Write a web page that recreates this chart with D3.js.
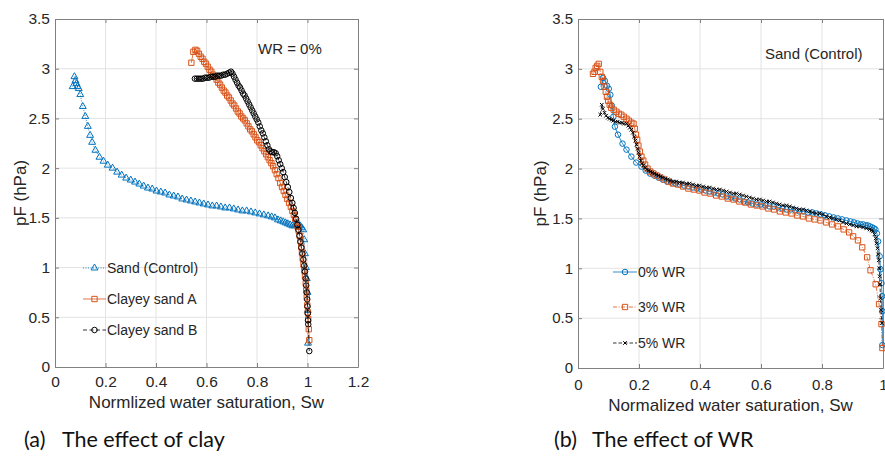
<!DOCTYPE html>
<html>
<head>
<meta charset="utf-8">
<script src="https://cdn.jsdelivr.net/npm/d3@7"></script>
<style>
  body { margin: 0; background: #fff; }
  svg text { font-family: "Liberation Sans", Arial, sans-serif; fill: #262626; }
  svg text.caption { font-family: Lato, "Open Sans", sans-serif; fill: #111; }
</style>
</head>
<body>
<svg id="fig" width="885" height="460"></svg>
<script>
// ---- data: [Sw, pF] ----
var sandControl = [[0.070,2.82],[0.077,2.92],[0.081,2.88],[0.085,2.85],[0.089,2.82],[0.094,2.80],[0.100,2.74],[0.110,2.62],[0.120,2.52],[0.130,2.42],[0.139,2.33],[0.147,2.26],[0.160,2.18],[0.176,2.11],[0.192,2.07],[0.209,2.03],
  [0.228,2.00],[0.246,1.96],[0.264,1.93],[0.282,1.90],[0.300,1.88],[0.317,1.86],[0.334,1.84],[0.351,1.82],[0.368,1.80],[0.385,1.79],[0.402,1.77],[0.419,1.76],[0.436,1.75],[0.453,1.73],[0.470,1.72],[0.487,1.71],[0.504,1.69],[0.521,1.68],[0.538,1.67],[0.555,1.66],[0.572,1.65],[0.589,1.64],[0.606,1.63],[0.623,1.62],[0.640,1.62],[0.657,1.61],[0.674,1.60],[0.691,1.60],[0.708,1.59],[0.725,1.58],[0.742,1.57],[0.759,1.57],[0.776,1.56],[0.793,1.55],[0.810,1.54],[0.827,1.53],[0.844,1.52],[0.858,1.51],[0.871,1.50],[0.883,1.48],[0.894,1.47],[0.904,1.46],[0.913,1.45],[0.922,1.44],[0.931,1.43],[0.940,1.42],[0.948,1.42],[0.956,1.43],[0.964,1.43],[0.971,1.42],[0.977,1.40],[0.983,1.38],[0.987,1.28],[0.990,1.14],[0.994,1.00],[0.997,0.89],[1.000,0.75],[1.001,0.57],[1.002,0.24]];

var clayeyA = [[0.540,3.06],[0.548,3.17],[0.556,3.19],[0.563,3.18],[0.570,3.15],[0.577,3.12],[0.584,3.10],[0.591,3.07],[0.598,3.05],[0.605,3.02],[0.612,2.99],[0.619,2.97],[0.626,2.94],[0.633,2.92],[0.640,2.89],[0.647,2.86],[0.654,2.84],[0.661,2.81],[0.668,2.78],[0.675,2.76],[0.682,2.73],[0.689,2.71],[0.696,2.68],[0.703,2.65],[0.710,2.63],[0.717,2.60],[0.724,2.57],[0.731,2.55],[0.738,2.52],[0.745,2.50],[0.752,2.48],[0.759,2.45],[0.766,2.42],[0.773,2.39],[0.780,2.37],[0.787,2.34],[0.794,2.31],[0.801,2.28],[0.808,2.26],[0.815,2.23],[0.822,2.20],[0.829,2.17],[0.836,2.14],[0.843,2.11],[0.850,2.08],[0.857,2.05],[0.864,2.02],[0.871,1.98],[0.878,1.94],[0.885,1.90],[0.892,1.85],[0.899,1.81],[0.906,1.77],[0.913,1.73],[0.920,1.69],[0.927,1.65],[0.934,1.61],[0.940,1.57],[0.946,1.53],[0.951,1.49],[0.956,1.45],[0.961,1.41],[0.965,1.37],[0.969,1.32],[0.972,1.27],[0.975,1.21],[0.978,1.15],[0.981,1.09],[0.984,1.03],[0.987,0.97],[0.990,0.91],[0.993,0.84],[0.995,0.77],[0.997,0.70],[0.999,0.62],[1.001,0.55],[1.003,0.48],[1.005,0.38],[1.007,0.27]];

var clayeyB = [[0.554,2.90],[0.562,2.90],[0.570,2.90],[0.578,2.90],[0.586,2.90],[0.594,2.91],[0.602,2.91],[0.610,2.91],[0.618,2.92],[0.626,2.92],[0.634,2.92],[0.642,2.93],[0.650,2.93],[0.658,2.93],[0.666,2.94],[0.674,2.94],[0.682,2.95],[0.690,2.96],[0.697,2.97],[0.703,2.95],[0.709,2.92],[0.715,2.89],[0.721,2.86],[0.727,2.83],[0.733,2.81],[0.739,2.78],[0.745,2.75],[0.751,2.73],[0.757,2.70],[0.763,2.67],[0.769,2.64],[0.775,2.61],[0.781,2.58],[0.787,2.55],[0.793,2.52],[0.799,2.49],[0.805,2.46],[0.811,2.42],[0.817,2.38],[0.823,2.35],[0.829,2.31],[0.835,2.27],[0.841,2.23],[0.847,2.19],[0.853,2.17],[0.860,2.16],[0.867,2.16],[0.874,2.15],[0.880,2.12],[0.886,2.08],[0.892,2.04],[0.898,2.00],[0.904,1.96],[0.910,1.91],[0.916,1.86],[0.922,1.81],[0.928,1.76],[0.934,1.70],[0.940,1.65],[0.945,1.60],[0.950,1.55],[0.955,1.49],[0.960,1.43],[0.964,1.38],[0.968,1.32],[0.972,1.26],[0.976,1.20],[0.980,1.14],[0.984,1.08],[0.987,1.02],[0.990,0.96],[0.993,0.89],[0.995,0.82],[0.997,0.75],[0.999,0.68],[1.000,0.61],[1.001,0.54],[1.002,0.47],[1.003,0.43],[1.007,0.16]];

var wr0 = [[0.075,2.82],[0.082,2.91],[0.088,2.88],[0.095,2.83],[0.101,2.80],[0.106,2.74],[0.111,2.63],[0.116,2.52],[0.121,2.42],[0.131,2.34],[0.146,2.25],[0.159,2.19],[0.175,2.12],[0.191,2.06],[0.208,2.02],[0.222,1.98],[0.236,1.95],[0.250,1.93],[0.264,1.91],[0.278,1.89],[0.292,1.87],[0.306,1.86],[0.320,1.85],[0.334,1.84],[0.348,1.83],[0.362,1.82],[0.376,1.81],[0.390,1.80],[0.404,1.79],[0.418,1.78],[0.432,1.77],[0.446,1.76],[0.460,1.75],[0.474,1.74],[0.488,1.72],[0.502,1.71],[0.516,1.70],[0.530,1.69],[0.544,1.67],[0.558,1.66],[0.572,1.65],[0.586,1.64],[0.600,1.64],[0.614,1.63],[0.628,1.62],[0.642,1.62],[0.656,1.61],[0.670,1.60],[0.684,1.59],[0.698,1.59],[0.712,1.58],[0.726,1.57],[0.740,1.57],[0.754,1.56],[0.768,1.56],[0.782,1.55],[0.796,1.54],[0.810,1.53],[0.824,1.52],[0.838,1.51],[0.852,1.50],[0.866,1.49],[0.880,1.48],[0.893,1.47],[0.905,1.46],[0.916,1.45],[0.926,1.44],[0.935,1.44],[0.943,1.43],[0.950,1.43],[0.957,1.42],[0.964,1.41],[0.970,1.40],[0.975,1.39],[0.980,1.35],[0.984,1.27],[0.989,1.12],[0.992,0.99],[0.995,0.85],[0.997,0.72],[0.998,0.57],[0.998,0.23]];

var wr3 = [[0.049,2.95],[0.054,2.97],[0.058,3.01],[0.063,3.03],[0.068,3.05],[0.073,2.97],[0.078,2.92],[0.082,2.88],[0.087,2.82],[0.091,2.77],[0.095,2.72],[0.099,2.68],[0.104,2.64],[0.109,2.61],[0.117,2.59],[0.126,2.57],[0.134,2.55],[0.142,2.54],[0.150,2.52],[0.159,2.50],[0.167,2.48],[0.175,2.46],[0.182,2.45],[0.186,2.40],[0.190,2.34],[0.194,2.29],[0.198,2.23],[0.203,2.17],[0.208,2.12],[0.214,2.08],[0.220,2.04],[0.228,2.00],[0.237,1.97],[0.247,1.95],[0.258,1.93],[0.270,1.91],[0.283,1.89],[0.297,1.87],[0.312,1.85],[0.328,1.84],[0.345,1.82],[0.362,1.80],[0.380,1.79],[0.398,1.78],[0.415,1.76],[0.434,1.75],[0.453,1.73],[0.472,1.72],[0.491,1.70],[0.510,1.69],[0.529,1.67],[0.548,1.66],[0.567,1.64],[0.586,1.63],[0.605,1.62],[0.624,1.60],[0.643,1.59],[0.662,1.57],[0.681,1.56],[0.700,1.55],[0.719,1.53],[0.738,1.52],[0.757,1.50],[0.776,1.49],[0.795,1.48],[0.814,1.46],[0.833,1.44],[0.852,1.42],[0.871,1.39],[0.889,1.36],[0.902,1.32],[0.918,1.28],[0.932,1.21],[0.948,1.11],[0.959,0.98],[0.976,0.84],[0.987,0.64],[0.995,0.44],[0.998,0.20]];

var wr5 = [[0.073,2.54],[0.078,2.64],[0.082,2.60],[0.087,2.56],[0.092,2.53],[0.098,2.51],[0.104,2.50],[0.110,2.49],[0.116,2.48],[0.123,2.47],[0.130,2.47],[0.137,2.46],[0.144,2.46],[0.151,2.45],[0.159,2.45],[0.165,2.43],[0.170,2.41],[0.175,2.39],[0.180,2.36],[0.184,2.32],[0.188,2.28],[0.192,2.24],[0.196,2.20],[0.199,2.16],[0.202,2.12],[0.206,2.08],[0.210,2.05],[0.215,2.03],[0.220,2.01],[0.226,1.99],[0.232,1.98],[0.238,1.97],[0.244,1.96],[0.250,1.95],[0.257,1.94],[0.264,1.93],[0.271,1.92],[0.278,1.91],[0.286,1.90],[0.294,1.89],[0.302,1.88],[0.312,1.87],[0.322,1.87],[0.333,1.86],[0.344,1.86],[0.355,1.85],[0.366,1.85],[0.377,1.84],[0.388,1.83],[0.399,1.83],[0.410,1.82],[0.421,1.81],[0.432,1.81],[0.443,1.80],[0.454,1.79],[0.465,1.79],[0.476,1.78],[0.487,1.77],[0.498,1.76],[0.509,1.75],[0.519,1.75],[0.530,1.74],[0.541,1.73],[0.552,1.72],[0.563,1.71],[0.574,1.70],[0.585,1.69],[0.596,1.69],[0.607,1.68],[0.618,1.67],[0.628,1.67],[0.639,1.66],[0.650,1.65],[0.661,1.64],[0.672,1.63],[0.683,1.63],[0.694,1.62],[0.705,1.61],[0.716,1.60],[0.727,1.59],[0.738,1.59],[0.749,1.58],[0.760,1.57],[0.770,1.56],[0.781,1.55],[0.792,1.55],[0.803,1.54],[0.814,1.52],[0.825,1.51],[0.836,1.50],[0.847,1.49],[0.858,1.48],[0.869,1.46],[0.880,1.45],[0.891,1.44],[0.902,1.43],[0.913,1.42],[0.924,1.42],[0.935,1.41],[0.945,1.40],[0.956,1.39],[0.962,1.38],[0.967,1.37],[0.972,1.34],[0.976,1.30],[0.979,1.25],[0.982,1.20],[0.984,1.14],[0.986,1.08],[0.988,1.00],[0.989,0.92],[0.990,0.84],[0.992,0.70],[0.994,0.58],[0.996,0.45]];

var xTicksA = [0, 0.2, 0.4, 0.6, 0.8, 1, 1.2];
var xTicksB = [0, 0.2, 0.4, 0.6, 0.8, 1];
var yTicks = [0, 0.5, 1, 1.5, 2, 2.5, 3, 3.5];

var blue = '#0072BD', orange = '#D95319', black = '#000000';
var svg = d3.select('#fig');

var symTri = d3.symbolTriangle2 || d3.symbolTriangle;
var symSq = d3.symbolSquare2 || d3.symbolSquare;
var symX = d3.symbolTimes || d3.symbolCross;

var panels = [
  {left: 55, top: 19, right: 358, bottom: 367, xDomain: [0, 1.2], xTicks: xTicksA,
   tickFont: 15.5, tickPad: 9,
   xLabel: 'Normlized water saturation, Sw', xLabelY: 408, yLabelX: 26,
   note: 'WR = 0%', noteX: 258, noteY: 54,
   legend: {x0: 83, x1: 106, tx: 107, ys: [268, 299, 330]},
   series: [
     {name: 'Sand (Control)', data: sandControl, color: blue, dash: '1,1.5', sym: symTri, size: 34},
     {name: 'Clayey sand A', data: clayeyA, color: orange, dash: null, sym: symSq, size: 36},
     {name: 'Clayey sand B', data: clayeyB, color: black, dash: '4,2.5', sym: d3.symbolCircle, size: 24}
   ]},
  {left: 578, top: 19, right: 883, bottom: 368, xDomain: [0, 1], xTicks: xTicksB,
   tickFont: 15, tickPad: 11,
   xLabel: 'Normalized water saturation, Sw', xLabelY: 411, yLabelX: 546,
   note: 'Sand (Control)', noteX: 765, noteY: 59,
   legend: {x0: 613, x1: 637, tx: 638, ys: [272, 307, 343]},
   series: [
     {name: '0% WR', data: wr0, color: blue, dash: null, sym: d3.symbolCircle, size: 24},
     {name: '3% WR', data: wr3, color: orange, dash: '4,1.5,1,1.5', sym: symSq, size: 36},
     {name: '5% WR', data: wr5, color: black, dash: '3.5,2', sym: symX, size: 10}
   ]}
];

panels.forEach(function(p) {
  var x = d3.scaleLinear().domain(p.xDomain).range([p.left, p.right]);
  var y = d3.scaleLinear().domain([0, 3.5]).range([p.bottom, p.top]);
  var fmt = function(d) { return String(+d.toFixed(1)); };
  var g = svg.append('g');

  // grid
  g.append('g').selectAll('line').data(p.xTicks.slice(1, -1)).join('line')
    .attr('x1', d => x(d)).attr('x2', d => x(d)).attr('y1', p.top).attr('y2', p.bottom)
    .attr('stroke', '#e3e3e3').attr('stroke-width', 1);
  g.append('g').selectAll('line').data(yTicks.slice(1, -1)).join('line')
    .attr('y1', d => y(d)).attr('y2', d => y(d)).attr('x1', p.left).attr('x2', p.right)
    .attr('stroke', '#e3e3e3').attr('stroke-width', 1);

  // axes, box and inward ticks
  var ax = function(sel) {
    sel.select('.domain').attr('stroke', '#808080');
    sel.selectAll('.tick line').attr('stroke', '#808080');
    sel.selectAll('text').attr('font-size', p.tickFont).attr('fill', '#262626')
      .attr('font-family', '"Liberation Sans", Arial, sans-serif');
  };
  g.append('g').attr('transform', 'translate(0,' + p.bottom + ')')
    .call(d3.axisBottom(x).tickValues(p.xTicks).tickFormat(fmt).tickSizeInner(-4).tickSizeOuter(0).tickPadding(p.tickPad)).call(ax);
  g.append('g').attr('transform', 'translate(' + p.left + ',0)')
    .call(d3.axisLeft(y).tickValues(yTicks).tickFormat(fmt).tickSizeInner(-4).tickSizeOuter(0).tickPadding(5)).call(ax);
  g.append('g').attr('transform', 'translate(0,' + p.top + ')')
    .call(d3.axisTop(x).tickValues(p.xTicks).tickFormat('').tickSizeInner(-4).tickSizeOuter(0)).call(ax);
  g.append('g').attr('transform', 'translate(' + p.right + ',0)')
    .call(d3.axisRight(y).tickValues(yTicks).tickFormat('').tickSizeInner(-4).tickSizeOuter(0)).call(ax);

  // series
  var line = d3.line().x(d => x(d[0])).y(d => y(d[1]));
  p.series.forEach(function(s) {
    g.append('path').datum(s.data).attr('d', line)
      .attr('fill', 'none').attr('stroke', s.color).attr('stroke-width', 0.8)
      .attr('stroke-dasharray', s.dash);
    g.append('g').selectAll('path').data(s.data).join('path')
      .attr('d', d3.symbol().type(s.sym).size(s.size))
      .attr('transform', d => 'translate(' + x(d[0]) + ',' + y(d[1]) + ')')
      .attr('fill', 'none').attr('stroke', s.color).attr('stroke-width', 1);
  });

  // legend
  p.series.forEach(function(s, i) {
    var ly = p.legend.ys[i];
    g.append('line').attr('x1', p.legend.x0).attr('x2', p.legend.x1).attr('y1', ly).attr('y2', ly)
      .attr('stroke', s.color).attr('stroke-width', 0.8).attr('stroke-dasharray', s.dash);
    g.append('path').attr('d', d3.symbol().type(s.sym).size(s.size))
      .attr('transform', 'translate(' + ((p.legend.x0 + p.legend.x1) / 2) + ',' + ly + ')')
      .attr('fill', 'none').attr('stroke', s.color).attr('stroke-width', 1);
    g.append('text').attr('x', p.legend.tx).attr('y', ly + 5).attr('font-size', 14).text(s.name);
  });

  // labels
  g.append('text').attr('x', p.noteX).attr('y', p.noteY).attr('font-size', 15).text(p.note);
  g.append('text').attr('x', (p.left + p.right) / 2).attr('y', p.xLabelY)
    .attr('text-anchor', 'middle').attr('font-size', 17).text(p.xLabel);
  g.append('text').attr('transform', 'translate(' + p.yLabelX + ',' + ((p.top + p.bottom) / 2) + ') rotate(-90)')
    .attr('text-anchor', 'middle').attr('font-size', 17).text('pF (hPa)');
});

// captions
var captions = [{tag: '(a)', text: 'The effect of clay', x: 24, tx: 62},
                {tag: '(b)', text: 'The effect of WR', x: 554, tx: 592}];
captions.forEach(function(c) {
  svg.append('text').attr('class', 'caption').attr('x', c.x).attr('y', 447).attr('font-size', 21.5).text(c.tag);
  svg.append('text').attr('class', 'caption').attr('x', c.tx).attr('y', 447).attr('font-size', 21.5).text(c.text);
});
</script>
</body>
</html>
